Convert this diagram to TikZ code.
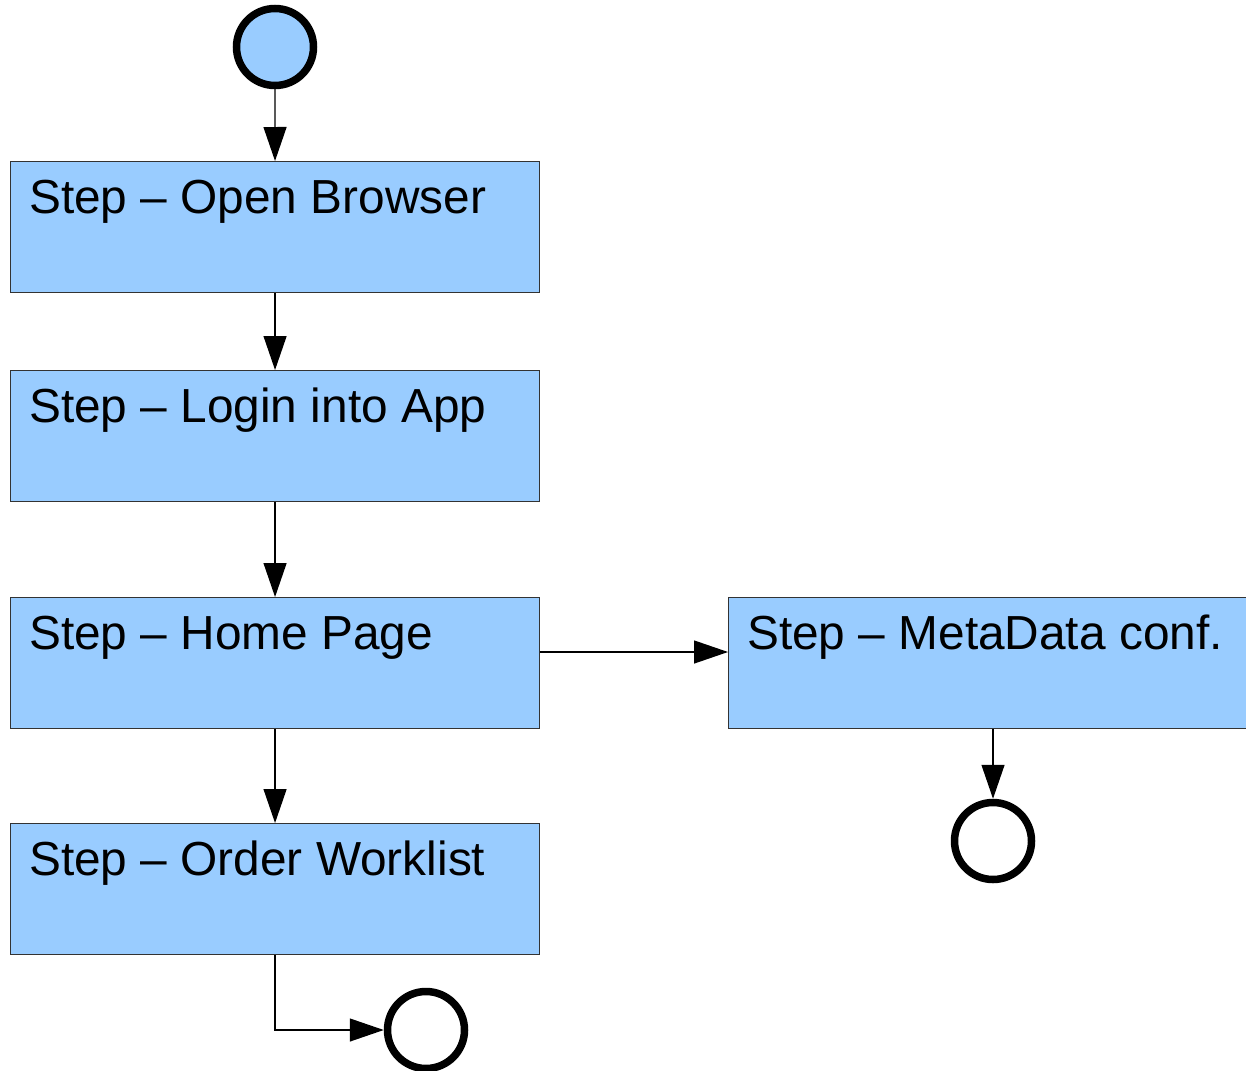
\documentclass[tikz,border=0pt]{standalone}
\usepackage{fontspec}
\setmainfont{Liberation Sans}
\usetikzlibrary{arrows.meta,calc}
\definecolor{boxblue}{HTML}{99CCFF}
\definecolor{edge}{HTML}{333333}
\begin{document}
\begin{tikzpicture}[x=1pt,y=-1pt,
  stepbox/.style={draw=edge,line width=1.1pt,fill=boxblue,minimum width=529pt,minimum height=131pt,inner sep=0pt,anchor=north west},
  steptext/.style={anchor=base west,inner sep=0pt,font=\fontsize{47.8}{58}\selectfont},
  startnode/.style={circle,draw=black,line width=7.5pt,fill=boxblue,minimum size=77pt,inner sep=0pt},
  endnode/.style={circle,draw=black,line width=7.5pt,fill=white,minimum size=77pt,inner sep=0pt},
  conn/.style={draw=black,line width=1.3pt,-{Triangle[length=34pt,width=23pt]}}]
\useasboundingbox (0,0) rectangle (1246,1070);
\begin{scope}
\clip (0,0) rectangle (1246,1070);
\node[startnode] (s) at (275,47) {};
\node[stepbox] (b1) at (10,161) {};
\node[stepbox] (b2) at (10,370) {};
\node[stepbox] (b3) at (10,597) {};
\node[stepbox] (b4) at (10,823) {};
\node[stepbox,minimum width=530pt] (b5) at (728,597) {};
\node[endnode] (e2) at (993,841) {};
\node[endnode] (e1) at (426,1030) {};
\node[steptext] (t1) at ($(b1.north west)+(19,52)$) {Step – Open Browser};
\node[steptext] (t2) at ($(b2.north west)+(19,52)$) {Step – Login into App};
\node[steptext] (t3) at ($(b3.north west)+(19,52)$) {Step – Home Page};
\node[steptext] (t4) at ($(b4.north west)+(19,52)$) {Step – Order Worklist};
\node[steptext] (t5) at ($(b5.north west)+(19,52)$) {Step – MetaData conf.};
\draw[conn] (s) -- (b1);
\draw[conn] (b1) -- (b2);
\draw[conn] (b2) -- (b3);
\draw[conn] (b3) -- (b4);
\draw[conn] ($(b3.north east)+(0,55)$) -- ($(b5.north west)+(0,55)$);
\draw[conn] (b5.south -| e2) -- (e2);
\draw[conn] (b4.south) |- (e1.west);
\end{scope}
\end{tikzpicture}
\end{document}
